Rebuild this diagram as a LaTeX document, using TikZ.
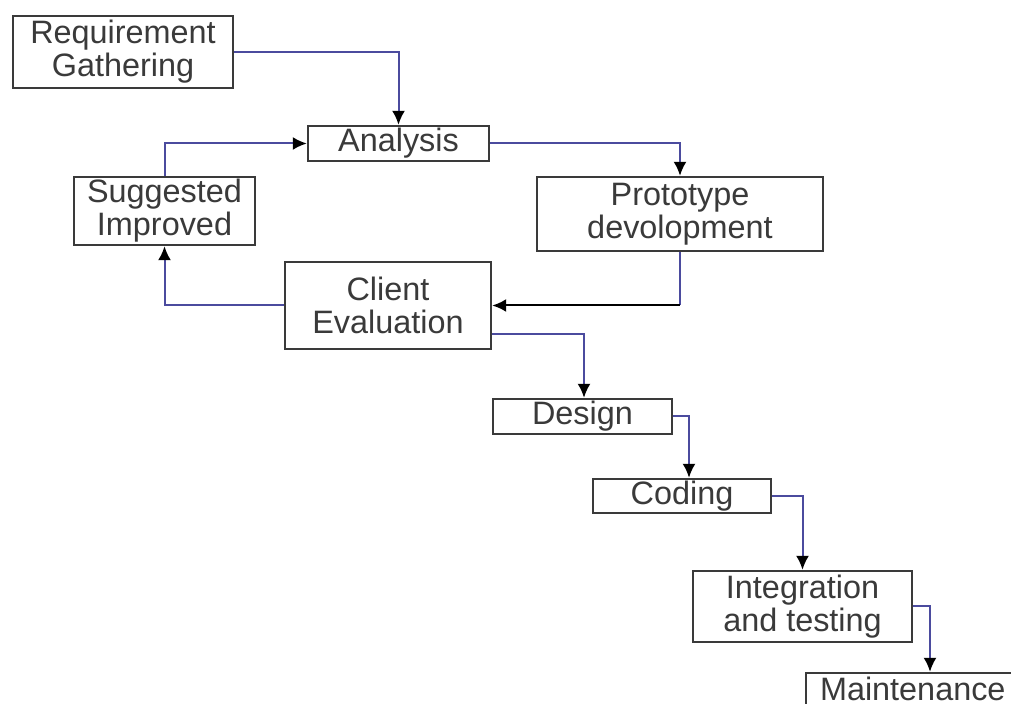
\documentclass[tikz,border=0pt]{standalone}
\usepackage{fontspec}
\setmainfont{Liberation Sans}
\usetikzlibrary{arrows.meta,calc}

\definecolor{linkblue}{HTML}{4B4B9E}
\definecolor{boxgray}{HTML}{3A3A3A}

\tikzset{
	stagebox/.style={draw=boxgray, line width=1.2pt, fill=white, rectangle, align=center, inner sep=0pt, text=boxgray, font=\fontsize{16.2}{16.6}\selectfont},
	link/.style={draw=linkblue, line width=1pt, -{Latex[length=7pt,width=6.5pt,color=black]}},
	linkplain/.style={draw=linkblue, line width=1pt},
	linkblack/.style={draw=black, line width=1pt, -{Latex[length=7pt,width=6.5pt,color=black]}}
}

\begin{document}
\begin{tikzpicture}[x=0.5pt, y=-0.5pt]

		\useasboundingbox (0,0) rectangle (1011,704);
		\clip (0,0) rectangle (1011,704);

			\node[stagebox, minimum width=110pt, minimum height=36pt] (req) at (123,52) {Requirement\\Gathering};
			\node[stagebox, minimum width=90.5pt, minimum height=17.5pt] (ana) at (398.5,143.5) {Analysis};
			\node[stagebox, minimum width=90.5pt, minimum height=34pt] (sug) at (164.5,211) {Suggested\\Improved};
			\node[stagebox, minimum width=143pt, minimum height=37pt] (pro) at (680,214) {Prototype\\devolopment};
			\node[stagebox, minimum width=103pt, minimum height=43.5pt] (cli) at (388,305.5) {Client\\Evaluation};

			\node[stagebox, minimum width=89.5pt, minimum height=17.5pt] (des) at (582.5,416.5) {Design};
			\node[stagebox, minimum width=89pt, minimum height=17pt] (cod) at (682,496) {Coding};
			\node[stagebox, minimum width=109.5pt, minimum height=35.5pt] (int) at (802.5,606.5) {Integration\\and testing};
			\node[stagebox, align=left, minimum width=124pt, minimum height=16pt, text width=110pt] (mai) at (930,689) {Maintenance};

			\draw [link] (req.east) -| (ana.north);
			\draw [link] (sug.north) |- (ana.west);
			\draw [link] (cli.west) -| (sug.south);
			\draw [link] (ana.east) -| (pro.north);

			\coordinate (bend) at (pro.south |- cli.east);
			\draw [linkplain] (pro.south) -- (bend);
			\draw [linkblack] (bend) -- (cli.east);

			\draw [link] ($(cli.east)+(0,28.5)$) -| ($(des.north)+(1.5,0)$);
			\draw [link] (des.east) -| ($(cod.north)+(7,0)$);
			\draw [link] (cod.east) -| (int.north);
			\draw [link] (int.east) -| (mai.north);

	\end{tikzpicture}
\end{document}
